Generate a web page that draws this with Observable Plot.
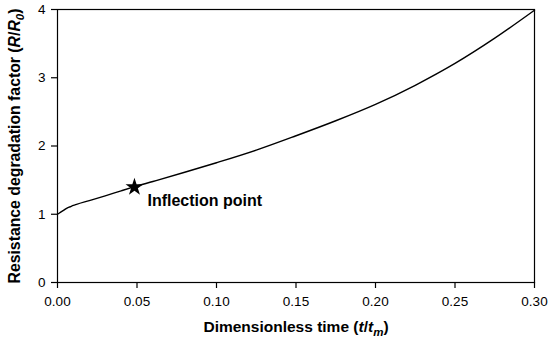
<!DOCTYPE html>
<html>
<head>
<meta charset="utf-8">
<script src="https://cdn.jsdelivr.net/npm/d3@7"></script>
<script src="https://cdn.jsdelivr.net/npm/@observablehq/plot@0.6"></script>
<style>
  html, body { margin: 0; padding: 0; background: #fff; }
  #chart svg { display: block; }
</style>
</head>
<body>
<div id="chart"></div>
<script>
// Dimensionless time t/tm
const tValues = [0, 0.002, 0.004, 0.006, 0.008, 0.010, 0.012, 0.02, 0.03, 0.04, 0.048, 0.06, 0.08, 0.10, 0.125, 0.15, 0.175, 0.20, 0.225, 0.25, 0.275, 0.30];
// Resistance degradation factor R/R0
const rValues = [1.00, 1.03, 1.06, 1.09, 1.11, 1.13, 1.145, 1.20, 1.27, 1.343, 1.40, 1.48, 1.615, 1.755, 1.94, 2.15, 2.37, 2.61, 2.89, 3.21, 3.58, 3.99];
// Inflection point
const inflectionT = [0.0484];
const inflectionR = [1.396];
const inflectionLabel = ["Inflection point"];
// Tick labels
const xTicks = [0, 0.05, 0.10, 0.15, 0.20, 0.25, 0.30];
const yTicks = [0, 1, 2, 3, 4];

const curve = tValues.map((t, i) => ({t, r: rValues[i]}));
const inflection = inflectionT.map((t, i) => ({t, r: inflectionR[i], label: inflectionLabel[i]}));

const font = "Arial, 'Liberation Sans', sans-serif";

const chart = Plot.plot({
  width: 550,
  height: 346,
  marginLeft: 57,
  marginRight: 16,
  marginTop: 9,
  marginBottom: 64,
  style: {fontFamily: font, fontSize: "13.5px", color: "#000", background: "#fff"},
  x: {domain: [0, 0.3]},
  y: {domain: [0, 4]},
  marks: [
    Plot.axisX({ticks: xTicks, tickFormat: d3.format(".2f"), tickSize: 6, tickPadding: 8, fontSize: 13.5, label: null, stroke: "#000", strokeWidth: 1.2}),
    Plot.axisY({ticks: yTicks, tickFormat: d3.format("d"), tickSize: 6, tickPadding: 6, fontSize: 13.5, label: null, stroke: "#000", strokeWidth: 1.2}),
    Plot.frame({stroke: "#000", strokeWidth: 1.2}),
    Plot.line(curve, {x: "t", y: "r", stroke: "#000", strokeWidth: 1.4, curve: "monotone-x"}),
    Plot.dot(inflection, {x: "t", y: "r", symbol: "star", r: 5.6, fill: "#000", stroke: "none"}),
    Plot.text(inflection, {x: "t", y: "r", text: "label", dx: 13, dy: 14, textAnchor: "start", fontWeight: "bold", fontSize: 16, fill: "#000"})
  ]
});

document.getElementById("chart").appendChild(chart);

// Axis titles with italic parts and subscripts
const svg = d3.select(chart);
const xt = svg.append("text")
  .attr("x", 296).attr("y", 332)
  .attr("text-anchor", "middle")
  .attr("font-family", font).attr("font-size", 15.5).attr("font-weight", "bold")
  .attr("fill", "#000");
xt.append("tspan").text("Dimensionless time (");
xt.append("tspan").attr("font-style", "italic").text("t");
xt.append("tspan").text("/");
xt.append("tspan").attr("font-style", "italic").text("t");
xt.append("tspan").attr("font-style", "italic").attr("font-size", 11.5).attr("dy", 4).text("m");
xt.append("tspan").attr("dy", -4).text(")");

const yt = svg.append("text")
  .attr("transform", "translate(20,146) rotate(-90)")
  .attr("text-anchor", "middle")
  .attr("font-family", font).attr("font-size", 15.8).attr("font-weight", "bold")
  .attr("fill", "#000");
yt.append("tspan").text("Resistance degradation factor (");
yt.append("tspan").attr("font-style", "italic").text("R");
yt.append("tspan").text("/");
yt.append("tspan").attr("font-style", "italic").text("R");
yt.append("tspan").attr("font-style", "italic").attr("font-size", 11.5).attr("dy", 4).text("0");
yt.append("tspan").attr("dy", -4).text(")");
</script>
</body>
</html>
